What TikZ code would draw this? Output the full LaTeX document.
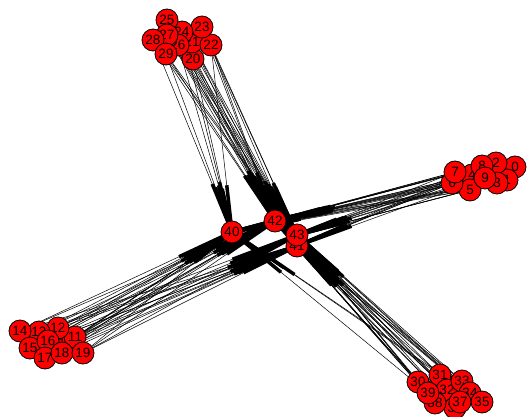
\documentclass[tikz,border=0pt]{standalone}
\usepackage{fontspec}
\setmainfont{Liberation Sans}
\usepackage{tikz}
\usetikzlibrary{calc,backgrounds}
\definecolor{vRed}{HTML}{FF0000}
\newcommand{\linkto}[2]{%
  \draw[edge] (v#1) -- (v#2);
  \draw[bar] ($(v#1)!0.75!(v#2)$) -- (v#2.center);}

\begin{document}
\begin{tikzpicture}[x=1pt, y=-1pt,
  vtx/.style={circle, draw=black, line width=0.8pt, fill=vRed, minimum size=22pt,
    inner sep=0pt, font=\fontsize{13.5}{13.5}\selectfont},
  edge/.style={line width=0.5pt, black},
  bar/.style={line width=3.5pt, black}]
  \useasboundingbox (0,0) rectangle (530,417);
  % nodes, drawn in numeric order
  \foreach \n/\x/\y in {0/515/167, 1/507/180, 2/496/163, 3/497/183, 4/472/175,
      5/470/190, 6/452/183, 7/455/172, 8/482/166, 9/485/178,
      10/66/343, 11/75/337, 12/58/328, 13/39/332, 14/20/331,
      15/30/348, 16/48/341, 17/45/358, 18/62/353, 19/83/353,
      20/193/59, 21/192/42, 22/211/45, 23/202/27, 24/182/32,
      25/167/20, 26/178/45, 27/167/35, 28/153/40, 29/166/54,
      30/418/382, 31/440/375, 32/447/390, 33/462/381, 34/470/393,
      35/482/402, 36/455/408, 37/460/402, 38/435/403, 39/428/393,
      40/232/232, 41/297/246, 42/275/221, 43/297/235}
    \node[vtx] (v\n) at (\x,\y) {\n};
  % edges with their arrow bars
  \begin{scope}[on background layer]
    \foreach \s in {20,...,29} \foreach \t in {42,43} {\linkto{\s}{\t}}
    \foreach \s in {20,22,24,26,28,29} {\linkto{\s}{40}}
    \foreach \s in {21,23,25,27} {\linkto{\s}{41}}
    \foreach \s in {0,...,9} \foreach \t in {40,42,43} {\linkto{\s}{\t}}
    \foreach \s in {0,2,4,6,8} {\linkto{\s}{41}}
    \foreach \s in {10,...,19} \foreach \t in {40,41,42} {\linkto{\s}{\t}}
    \foreach \s in {11,13,15,17,19} {\linkto{\s}{43}}
    \foreach \s in {30,...,39} \foreach \t in {41,43} {\linkto{\s}{\t}}
    \foreach \s in {30,32,34,36,38} {\linkto{\s}{42}}
    \foreach \s in {31,35,39} {\linkto{\s}{40}}
  \end{scope}
\end{tikzpicture}
\end{document}
